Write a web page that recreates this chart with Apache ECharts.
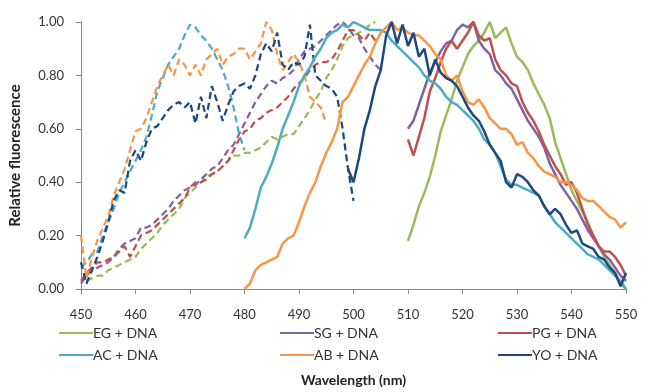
<!DOCTYPE html>
<html><head><meta charset="utf-8">
<script src="https://cdn.jsdelivr.net/npm/echarts@6/dist/echarts.min.js"></script>
<style>html,body{margin:0;padding:0;background:#fff}#c{width:650px;height:392px}</style>
</head><body><div id="c"></div>
<script>
// x tick labels
var xTicks = [450,460,470,480,490,500,510,520,530,540,550];
var yTicks = [0,0.2,0.4,0.6,0.8,1.0];
// legend names
var dyes = ['EG + DNA','SG + DNA','PG + DNA','AC + DNA','AB + DNA','YO + DNA'];
var colors = ['#9BBB59','#8064A2','#C0504D','#4BACC6','#F79646','#1F497D'];
// excitation (dashed), start wavelength + values at 1 nm steps
var egExStart = 451;
var egEx = [0.03,0.04,0.05,0.05,0.07,0.08,0.09,0.10,0.11,0.12,0.15,0.17,0.19,0.21,0.24,0.26,0.28,0.30,0.34,0.36,0.38,0.40,0.42,0.43,0.44,0.46,0.48,0.50,0.50,0.51,0.51,0.52,0.53,0.55,0.57,0.56,0.57,0.58,0.58,0.61,0.64,0.67,0.71,0.74,0.79,0.82,0.86,0.91,0.94,0.95,0.96,0.97,0.99,1.00];
var sgExStart = 450;
var sgEx = [0.02,0.05,0.07,0.08,0.09,0.10,0.12,0.15,0.17,0.18,0.19,0.23,0.23,0.24,0.26,0.28,0.30,0.33,0.35,0.37,0.38,0.39,0.41,0.43,0.45,0.46,0.49,0.52,0.54,0.58,0.62,0.66,0.70,0.73,0.76,0.78,0.77,0.79,0.80,0.82,0.86,0.89,0.90,0.91,0.93,0.95,0.97,0.99,1.00,0.98,0.95,0.94,0.90,0.87,0.84,0.82];
var pgExStart = 450;
var pgEx = [0.03,0.06,0.08,0.10,0.10,0.11,0.12,0.14,0.16,0.12,0.16,0.20,0.21,0.22,0.24,0.26,0.28,0.30,0.32,0.34,0.38,0.40,0.40,0.41,0.43,0.44,0.46,0.48,0.52,0.56,0.59,0.60,0.63,0.64,0.66,0.67,0.68,0.70,0.72,0.75,0.77,0.79,0.82,0.84,0.85,0.85,0.86,0.89,0.93,0.97,0.97,0.95,0.93,0.96,0.93];
var acExStart = 450;
var acEx = [0.08,0.10,0.13,0.14,0.20,0.25,0.30,0.36,0.40,0.44,0.48,0.52,0.57,0.65,0.74,0.79,0.84,0.87,0.90,0.95,0.99,0.98,0.95,0.93,0.90,0.86,0.82,0.76,0.68,0.58,0.52];
var abExStart = 450;
var abEx = [0.20,0.04,0.12,0.18,0.23,0.27,0.35,0.40,0.45,0.52,0.59,0.60,0.64,0.70,0.76,0.80,0.84,0.80,0.86,0.84,0.80,0.84,0.80,0.86,0.88,0.90,0.84,0.87,0.88,0.90,0.90,0.86,0.89,0.92,1.00,0.97,0.88,0.82,0.85,0.88,0.85,0.80,0.72,0.70,0.68,0.62];
var yoExStart = 450;
var yoEx = [0.10,0.02,0.07,0.12,0.18,0.25,0.33,0.37,0.36,0.48,0.52,0.48,0.55,0.60,0.61,0.64,0.67,0.69,0.70,0.68,0.70,0.62,0.72,0.64,0.76,0.70,0.63,0.69,0.74,0.76,0.77,0.75,0.80,0.88,0.92,0.89,0.96,0.84,0.82,0.85,0.84,0.87,0.99,0.80,0.78,0.76,0.75,0.72,0.60,0.45,0.33];
// emission (solid)
var egEmStart = 510;
var egEm = [0.18,0.24,0.31,0.36,0.42,0.50,0.59,0.65,0.71,0.78,0.83,0.88,0.91,0.93,0.96,1.00,0.94,0.96,0.98,0.92,0.87,0.85,0.82,0.77,0.73,0.69,0.64,0.55,0.49,0.43,0.37,0.33,0.29,0.25,0.20,0.16,0.12,0.09,0.06,0.02,0.00];
var sgEmStart = 510;
var sgEm = [0.60,0.63,0.69,0.75,0.81,0.85,0.89,0.92,0.93,0.97,0.99,0.98,1.00,0.93,0.90,0.88,0.82,0.80,0.77,0.75,0.71,0.67,0.63,0.60,0.57,0.53,0.47,0.43,0.39,0.36,0.33,0.30,0.26,0.22,0.19,0.16,0.13,0.11,0.08,0.05,0.03];
var pgEmStart = 510;
var pgEm = [0.56,0.50,0.57,0.64,0.74,0.79,0.85,0.90,0.93,0.90,0.93,0.96,1.00,0.95,0.93,0.94,0.86,0.82,0.80,0.77,0.76,0.70,0.66,0.63,0.59,0.54,0.50,0.46,0.43,0.39,0.40,0.36,0.30,0.24,0.20,0.16,0.14,0.14,0.12,0.09,0.05];
var acEmStart = 480;
var acEm = [0.19,0.23,0.30,0.38,0.42,0.47,0.53,0.60,0.65,0.70,0.76,0.80,0.83,0.87,0.90,0.94,0.96,0.97,0.99,0.98,1.00,0.99,0.98,0.97,0.97,0.97,0.96,0.93,0.91,0.89,0.87,0.85,0.83,0.80,0.78,0.77,0.75,0.72,0.70,0.69,0.67,0.65,0.63,0.60,0.56,0.54,0.51,0.46,0.41,0.39,0.39,0.38,0.37,0.36,0.35,0.31,0.28,0.25,0.23,0.21,0.19,0.17,0.15,0.13,0.12,0.11,0.09,0.07,0.05,0.03,0.00];
var abEmStart = 480;
var abEm = [0.00,0.02,0.07,0.09,0.10,0.11,0.12,0.17,0.19,0.20,0.25,0.31,0.36,0.40,0.46,0.51,0.55,0.60,0.70,0.72,0.76,0.80,0.84,0.87,0.92,0.96,0.98,1.00,0.97,0.98,0.96,0.95,0.95,0.93,0.91,0.88,0.86,0.80,0.78,0.80,0.74,0.70,0.69,0.71,0.68,0.64,0.62,0.60,0.60,0.58,0.54,0.55,0.51,0.49,0.46,0.44,0.43,0.42,0.40,0.40,0.39,0.37,0.34,0.33,0.33,0.31,0.29,0.27,0.26,0.23,0.25];
var yoEmStart = 499;
var yoEm = [0.45,0.40,0.49,0.60,0.67,0.76,0.82,0.95,1.00,0.92,0.99,0.91,0.96,0.87,0.90,0.80,0.86,0.81,0.79,0.78,0.76,0.72,0.68,0.65,0.63,0.59,0.54,0.51,0.48,0.40,0.38,0.43,0.42,0.40,0.37,0.35,0.31,0.28,0.30,0.28,0.24,0.21,0.22,0.17,0.16,0.15,0.12,0.11,0.08,0.06,0.01,0.06];

function pairs(start, vals){ return vals.map(function(v,i){ return [start+i, v]; }); }

var exList = [[egExStart,egEx],[sgExStart,sgEx],[pgExStart,pgEx],[acExStart,acEx],[abExStart,abEx],[yoExStart,yoEx]];
var emList = [[egEmStart,egEm],[sgEmStart,sgEm],[pgEmStart,pgEm],[acEmStart,acEm],[abEmStart,abEm],[yoEmStart,yoEm]];

var series = [];
exList.forEach(function(e,i){
  series.push({name: dyes[i]+' ex', type:'line', data: pairs(e[0],e[1]), symbol:'none', silent:true,
    itemStyle:{color:colors[i]}, lineStyle:{color:colors[i], width:2.25, type:[7,4]}, z:2});
});
emList.forEach(function(e,i){
  series.push({name: dyes[i], type:'line', data: pairs(e[0],e[1]), symbol:'none', silent:true,
    itemStyle:{color:colors[i]}, lineStyle:{color:colors[i], width:2.5}, z:3});
});

var font = 'Lato, "Liberation Sans", sans-serif';
function leg(names, left){
  return {data: names, left: left, top: 321, orient:'vertical', itemGap: 8, itemWidth: 34, itemHeight: 16,
    icon: 'path://M0,7 L34,7 L34,9 L0,9 Z', selectedMode:false,
    textStyle:{fontFamily:font, fontSize:14, color:'#333', padding:[0,0,0,-5]}};
}

var chart = echarts.init(document.getElementById('c'), null, {renderer:'canvas'});
chart.setOption({
  animation:false,
  backgroundColor:'#fff',
  grid:{left:81, right:24, top:22, bottom:102, containLabel:false},
  legend:[leg([dyes[0],dyes[3]], 54), leg([dyes[1],dyes[4]], 275), leg([dyes[2],dyes[5]], 493)],
  xAxis:{type:'value', min:xTicks[0], max:xTicks[xTicks.length-1], interval:10,
    name:'Wavelength (nm)', nameLocation:'middle', nameGap:84,
    nameTextStyle:{fontFamily:font, fontSize:14, fontWeight:'bold', color:'#222'},
    axisLine:{lineStyle:{color:'#8a8a8a', width:1}},
    axisTick:{show:true, length:5, lineStyle:{color:'#8a8a8a'}},
    axisLabel:{fontFamily:font, fontSize:13, color:'#333', margin:19},
    splitLine:{show:false}},
  yAxis:{type:'value', min:yTicks[0], max:yTicks[yTicks.length-1], interval:0.2,
    name:'Relative fluorescence', nameLocation:'middle', nameGap:58, nameRotate:90,
    nameTextStyle:{fontFamily:font, fontSize:15, fontWeight:'bold', color:'#222'},
    axisLine:{show:true, lineStyle:{color:'#8a8a8a', width:1}},
    axisTick:{show:true, length:5, lineStyle:{color:'#8a8a8a'}},
    axisLabel:{fontFamily:font, fontSize:13, color:'#333', margin:17, formatter:function(v){return v.toFixed(2);}},
    splitLine:{show:false}},
  series: series
});
</script></body></html>
